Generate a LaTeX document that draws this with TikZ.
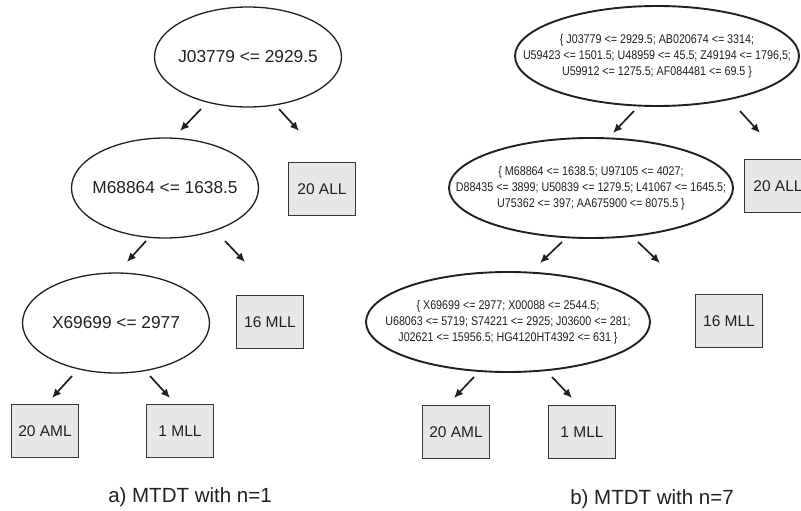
\documentclass[tikz,border=0pt]{standalone}
\usepackage{fontspec}
\setmainfont{Liberation Sans}
\newfontfamily\narrowfont[FakeStretch=0.85]{Liberation Sans}
\usetikzlibrary{positioning,shapes.geometric,arrows.meta}
\definecolor{ink}{RGB}{35,31,32}
\definecolor{leafgray}{RGB}{230,231,232}

\begin{document}
\begin{tikzpicture}[x=1pt,y=-1pt]
  \tikzstyle{split}=[ellipse, draw=ink, line width=1.3pt, minimum width=187pt, minimum height=100pt, inner sep=0pt]
  \tikzstyle{bigsplit}=[split, line width=1.9pt, minimum width=284pt]
  \tikzstyle{splittext}=[text=ink, font=\fontsize{17.3}{20}\selectfont]
  \tikzstyle{bigtext}=[text=ink, align=center, font=\narrowfont\fontsize{12.6}{16}\selectfont]
  \tikzstyle{leaf}=[rectangle, draw=ink!90, fill=leafgray, line width=1.4pt, minimum width=67pt, minimum height=53pt, text=ink, font=\fontsize{15.5}{18}\selectfont]
  \tikzstyle{caption}=[text=ink, font=\fontsize{20.5}{24}\selectfont]
  \tikzstyle{connect}=[-{Latex[length=9pt,width=8pt]}, line width=1.7pt, draw=ink]
  \useasboundingbox (0,0) rectangle (801,511);
  \clip (0,0) rectangle (801,511);
  % a) n=1
  \node[split, label={[splittext]center:{J03779 <= 2929.5}}] (a1) at (248,57) {};
  \node[split, label={[splittext]center:{M68864 <= 1638.5}}] (a2) at (165,188) {};
  \node[split, label={[splittext]center:{X69699 <= 2977}}] (a3) at (116,323) {};
  \node[leaf] (allA) at (322,189) {20 ALL};
  \node[leaf] (mllA) at (270,322) {16 MLL};
  \node[leaf] (amlA) at (45,431) {20 AML};
  \node[leaf] (oneA) at (180,431) {1 MLL};
  \node[caption] (capA) at (190,497) {a) MTDT with n=1};
  \coordinate (a1l) at ([shift={(-47,52)}]a1.center);
  \coordinate (a1l') at ([shift={(-68,74)}]a1.center);
  \coordinate (a1r) at ([shift={(31,52)}]a1.center);
  \coordinate (a1r') at ([shift={(51,74)}]a1.center);
  \coordinate (a2l) at ([shift={(-19,53)}]a2.center);
  \coordinate (a2l') at ([shift={(-38,74)}]a2.center);
  \coordinate (a2r) at ([shift={(60,53)}]a2.center);
  \coordinate (a2r') at ([shift={(80,74)}]a2.center);
  \coordinate (a3l) at ([shift={(-44,53)}]a3.center);
  \coordinate (a3l') at ([shift={(-64,75)}]a3.center);
  \coordinate (a3r) at ([shift={(34,53)}]a3.center);
  \coordinate (a3r') at ([shift={(54,75)}]a3.center);
  \path (a1l) edge [connect] (a1l')
        (a1r) edge [connect] (a1r')
        (a2l) edge [connect] (a2l')
        (a2r) edge [connect] (a2r')
        (a3l) edge [connect] (a3l')
        (a3r) edge [connect] (a3r');
  % b) n=7
  \node[bigsplit, label={[bigtext]center:{\{ J03779 <= 2929.5; AB020674 <= 3314;\\U59423 <= 1501.5; U48959 <= 45.5; Z49194 <= 1796,5;\\U59912 <= 1275.5; AF084481 <= 69.5 \}}}] (b1) at (657,56) {};
  \node[bigsplit, label={[bigtext]center:{\{ M68864 <= 1638.5; U97105 <= 4027;\\D88435 <= 3899; U50839 <= 1279.5; L41067 <= 1645.5;\\U75362 <= 397; AA675900 <= 8075.5 \}}}] (b2) at (591,188) {};
  \node[bigsplit, label={[bigtext]center:{\{ X69699 <= 2977; X00088 <= 2544.5;\\U68063 <= 5719; S74221 <= 2925; J03600 <= 281;\\J02621 <= 15956.5; HG4120HT4392 <= 631 \}}}] (b3) at (508,322) {};
  \node[leaf] (allB) at (778,186) {20 ALL};
  \node[leaf] (mllB) at (729,321) {16 MLL};
  \node[leaf] (amlB) at (456,432) {20 AML};
  \node[leaf] (oneB) at (582,432) {1 MLL};
  \node[caption] (capB) at (652,499) {b) MTDT with n=7};
  \coordinate (b1l) at ([shift={(-23,55)}]b1.center);
  \coordinate (b1l') at ([shift={(-44,77)}]b1.center);
  \coordinate (b1r) at ([shift={(83,55)}]b1.center);
  \coordinate (b1r') at ([shift={(103,77)}]b1.center);
  \coordinate (b2l) at ([shift={(-29,54)}]b2.center);
  \coordinate (b2l') at ([shift={(-51,75)}]b2.center);
  \coordinate (b2r) at ([shift={(47,54)}]b2.center);
  \coordinate (b2r') at ([shift={(69,75)}]b2.center);
  \coordinate (b3l) at ([shift={(-34,55)}]b3.center);
  \coordinate (b3l') at ([shift={(-54,76)}]b3.center);
  \coordinate (b3r) at ([shift={(44,55)}]b3.center);
  \coordinate (b3r') at ([shift={(64,76)}]b3.center);
  \path (b1l) edge [connect] (b1l')
        (b1r) edge [connect] (b1r')
        (b2l) edge [connect] (b2l')
        (b2r) edge [connect] (b2r')
        (b3l) edge [connect] (b3l')
        (b3r) edge [connect] (b3r');
\end{tikzpicture}
\end{document}
